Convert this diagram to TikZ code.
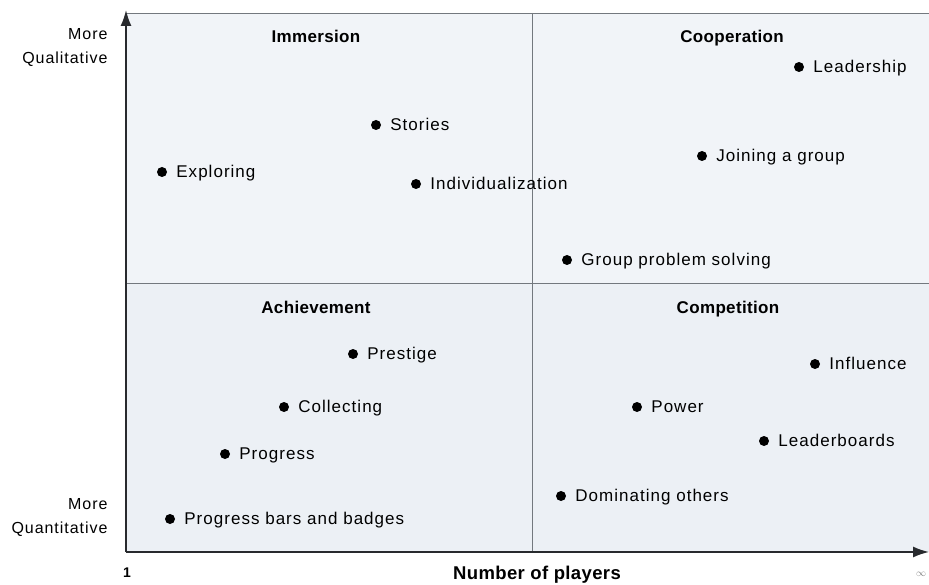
\documentclass[tikz,border=0pt]{standalone}
\usepackage{fontspec}
\setmainfont{Liberation Sans}[LetterSpace=6, BoldFeatures={LetterSpace=2}]
\usetikzlibrary{arrows.meta, positioning}
\definecolor{panelfill}{RGB}{236,240,245}
\definecolor{panellight}{RGB}{241,244,248}
\definecolor{axisline}{RGB}{40,42,46}
\definecolor{gridline}{RGB}{115,120,126}

\begin{document}
\begin{tikzpicture}[x = 1pt, y = -1pt, font = \fontsize{17}{20}\selectfont,
	dot/.style = {circle, fill = black, inner sep = 0pt, minimum size = 10pt},
	item/.style = {inner sep = 0pt, text height = 0.72em, text depth = 0pt, yshift = -2pt},
	title/.style = {anchor = base, font = \fontsize{17}{20}\selectfont\bfseries},
	side/.style = {align = right, anchor = east, font = \fontsize{16}{24}\selectfont},
	axis/.style = {axisline, line width = 1.6pt},
	grid/.style = {gridline, line width = 0.9pt}]
	\useasboundingbox (0,0) rectangle (929,585);

	% quadrants
	\fill[panellight] (126,13) rectangle (532,283);
	\fill[panellight] (532,13) rectangle (929,283);
	\fill[panelfill] (126,283) rectangle (532,552);
	\fill[panelfill] (532,283) rectangle (929,552);

	\coordinate (o) at (126,552);
	\coordinate (ytop) at (126,10);
	\coordinate (xend) at (929,552);
	\coordinate (tl) at (126,13);
	\coordinate (tr) at (929,13);
	\coordinate (mt) at (532,13);
	\coordinate (mb) at (532,552);
	\coordinate (ml) at (126,283);
	\coordinate (mr) at (929,283);

	\draw[grid] (tl) -- (tr);
	\draw[grid] (mt) -- (mb);
	\draw[grid] (ml) -- (mr);
	\draw[axis, -{Latex[length = 16pt, width = 11pt]}] (o) -- (ytop);
	\draw[axis, -{Latex[length = 16pt, width = 11pt]}] (o) -- (xend);

	% quadrant titles
	\node[title] (imm) at (316,43) {Immersion};
	\node[title] (coop) at (732,43) {Cooperation};
	\node[title] (ach) at (316,313) {Achievement};
	\node[title] (comp) at (728,313) {Competition};

	% immersion
	\node[dot] (stor) at (376,125) {};
	\node[item, right = 9pt of stor] (stor-t) {Stories};
	\node[dot] (expl) at (162,172) {};
	\node[item, right = 9pt of expl] (expl-t) {Exploring};
	\node[dot] (indiv) at (416,184) {};
	\node[item, right = 9pt of indiv] (indiv-t) {Individualization};

	% cooperation
	\node[dot] (lead) at (799,67) {};
	\node[item, right = 9pt of lead] (lead-t) {Leadership};
	\node[dot] (join) at (702,156) {};
	\node[item, right = 9pt of join] (join-t) {Joining a group};
	\node[dot] (grp) at (567,260) {};
	\node[item, right = 9pt of grp] (grp-t) {Group problem solving};

	% achievement
	\node[dot] (pres) at (353,354) {};
	\node[item, right = 9pt of pres] (pres-t) {Prestige};
	\node[dot] (coll) at (284,407) {};
	\node[item, right = 9pt of coll] (coll-t) {Collecting};
	\node[dot] (prog) at (225,454) {};
	\node[item, right = 9pt of prog] (prog-t) {Progress};
	\node[dot] (bars) at (170,519) {};
	\node[item, right = 9pt of bars] (bars-t) {Progress bars and badges};

	% competition
	\node[dot] (infl) at (815,364) {};
	\node[item, right = 9pt of infl] (infl-t) {Influence};
	\node[dot] (pow) at (637,407) {};
	\node[item, right = 9pt of pow] (pow-t) {Power};
	\node[dot] (lboard) at (764,441) {};
	\node[item, right = 9pt of lboard] (lboard-t) {Leaderboards};
	\node[dot] (dom) at (561,496) {};
	\node[item, right = 9pt of dom] (dom-t) {Dominating others};

	% axis labels
	\node[side] (qual) at (111,48) {More\\Qualitative};
	\node[side] (quan) at (111,518) {More\\Quantitative};
	\node (one) at (127,573) {\fontsize{14}{16}\selectfont\bfseries 1};
	\node[font = \fontsize{18.5}{20}\selectfont\bfseries] (nplay) at (537,575) {Number of players};
	\node[text = gray] (inf) at (921,574) {\fontsize{10}{12}\selectfont$\infty$};
\end{tikzpicture}
\end{document}
